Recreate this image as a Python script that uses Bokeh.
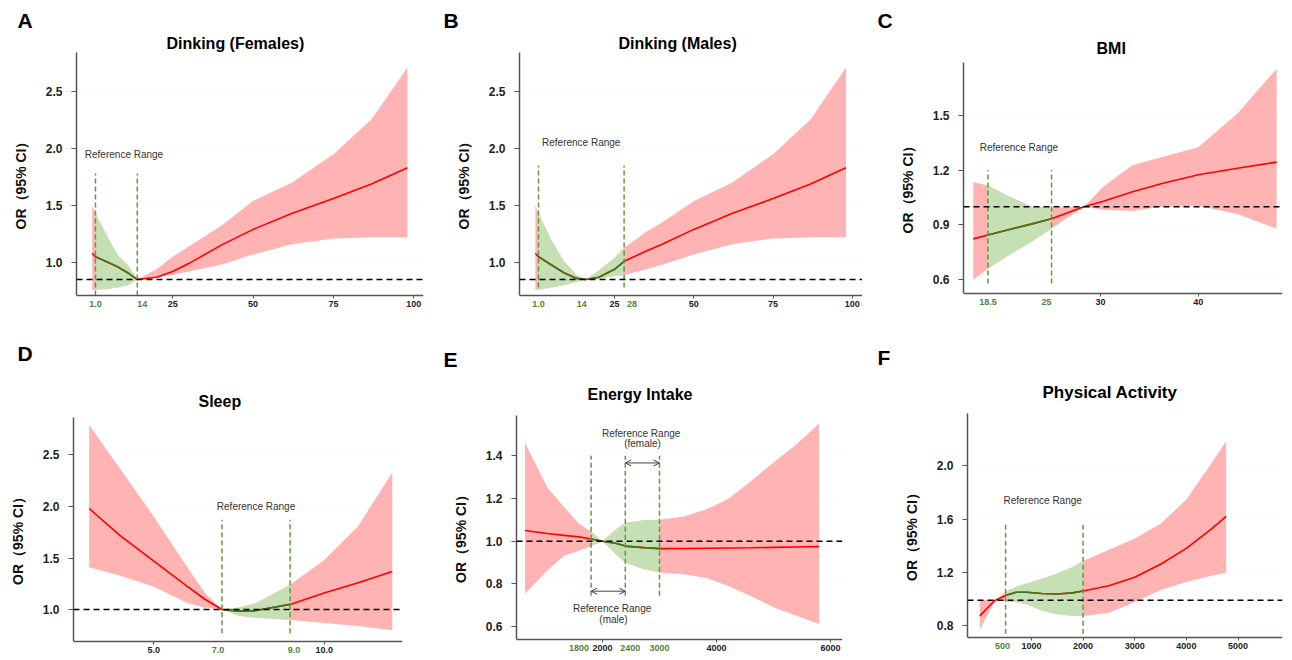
import numpy as np
from bokeh.plotting import figure
from bokeh.models import Range1d, FixedTicker, PrintfTickFormatter, Span, Title, Arrow, OpenHead
from bokeh.layouts import row, column
from bokeh.embed import file_html
from bokeh.resources import INLINE
from bokeh.core.properties import value

FONT = "Liberation Sans"
RED_FILL = "#ffb3b3"
RED_LINE = "#ff0000"
GREEN_FILL = "#c5e0b4"
GREEN_LINE = "#3b7a1e"
GREEN_DASH = "#5f9a3c"
GREEN_TEXT = "#548235"
Y_LABEL = "OR（95% CI）"
NOTE = "Reference  Range"

# ---------------- data ----------------
# A  Drinking (females)
A_x = [0, 1, 5, 8, 11, 14, 20, 25, 30, 40, 50, 62, 75, 87, 98]
A_or = [1.08, 1.05, 1.00, 0.96, 0.91, 0.85, 0.87, 0.92, 0.99, 1.15, 1.29, 1.43, 1.56, 1.69, 1.83]
A_lo = [0.76, 0.76, 0.77, 0.78, 0.80, 0.85, 0.87, 0.89, 0.92, 0.98, 1.07, 1.16, 1.21, 1.22, 1.22]
A_hi = [1.50, 1.43, 1.21, 1.06, 0.98, 0.85, 0.94, 1.05, 1.14, 1.32, 1.54, 1.70, 1.95, 2.26, 2.71]
A_ref = [1, 14]
A_ref_line = 0.85
A_yticks = [1.0, 1.5, 2.0, 2.5]
A_xticks = [25, 50, 75, 100]
A_green_ticks = [1, 14]
A_green_labels = ["1.0", "14"]

# B  Drinking (males)
B_x = [0, 1, 5, 9, 13, 16, 20, 25, 28, 35, 40, 50, 62, 75, 87, 98]
B_or = [1.08, 1.05, 0.98, 0.91, 0.86, 0.85, 0.87, 0.94, 1.01, 1.10, 1.16, 1.29, 1.43, 1.56, 1.69, 1.83]
B_lo = [0.76, 0.76, 0.78, 0.80, 0.83, 0.85, 0.86, 0.88, 0.89, 0.94, 0.98, 1.07, 1.16, 1.21, 1.22, 1.22]
B_hi = [1.50, 1.43, 1.20, 1.01, 0.89, 0.85, 0.93, 1.04, 1.13, 1.27, 1.35, 1.54, 1.70, 1.95, 2.26, 2.71]
B_ref = [1, 28]
B_ref_line = 0.85
B_yticks = [1.0, 1.5, 2.0, 2.5]
B_xticks = [25, 50, 75, 100]
B_green_ticks = [1, 14, 28]
B_green_labels = ["1.0", "14", "28"]

# C  BMI
C_x = [17, 18.5, 20.5, 23, 25, 28.3, 30.3, 33.2, 36.2, 40, 44, 48]
C_or = [0.824, 0.845, 0.872, 0.906, 0.934, 1.0, 1.03, 1.08, 1.125, 1.175, 1.21, 1.244]
C_lo = [0.60, 0.66, 0.73, 0.81, 0.88, 1.0, 0.983, 0.976, 1.0, 1.005, 0.96, 0.88]
C_hi = [1.134, 1.116, 1.06, 1.0, 0.994, 1.0, 1.11, 1.225, 1.27, 1.325, 1.51, 1.755]
C_ref = [18.5, 25]
C_ref_line = 1.0
C_yticks = [0.6, 0.9, 1.2, 1.5]
C_xticks = [30, 40]
C_green_ticks = [18.5, 25]
C_green_labels = ["18.5", "25"]

# D  Sleep
D_x = [3.1, 4, 5, 6, 6.5, 7, 7.5, 8, 9, 10, 11, 12]
D_or = [1.98, 1.72, 1.47, 1.22, 1.10, 1.0, 0.985, 0.99, 1.05, 1.16, 1.26, 1.37]
D_lo = [1.41, 1.33, 1.22, 1.06, 1.02, 1.0, 0.94, 0.92, 0.90, 0.87, 0.84, 0.80]
D_hi = [2.79, 2.37, 1.90, 1.40, 1.16, 1.0, 1.02, 1.06, 1.24, 1.48, 1.81, 2.33]
D_ref = [7, 9]
D_ref_line = 1.0
D_yticks = [1.0, 1.5, 2.0, 2.5]
D_xticks = [5, 10]
D_green_ticks = [7, 9]
D_green_labels = ["7.0", "9.0"]

# E  Energy intake
E_x = [640, 1035, 1325, 1590, 1800, 2000, 2230, 2400, 2730, 3000, 3430, 3840, 4220, 4600, 5010, 5390, 5800]
E_or = [1.05, 1.036, 1.027, 1.02, 1.01, 1.0, 0.99, 0.977, 0.97, 0.965, 0.966, 0.967, 0.968, 0.969, 0.971, 0.973, 0.975]
E_lo = [0.754, 0.864, 0.932, 0.955, 0.977, 1.0, 0.94, 0.90, 0.869, 0.854, 0.845, 0.827, 0.789, 0.743, 0.69, 0.652, 0.612]
E_hi = [1.46, 1.25, 1.16, 1.08, 1.045, 1.0, 1.053, 1.086, 1.098, 1.10, 1.116, 1.15, 1.20, 1.28, 1.37, 1.45, 1.55]
E_ref = [1800, 3000]
E_ref_line = 1.0
E_yticks = [0.6, 0.8, 1.0, 1.2, 1.4]
E_xticks = [2000, 4000, 6000]
E_green_ticks = [1800, 2400, 3000]
E_green_labels = ["1800", "2400", "3000"]

# F  Physical activity
F_x = [0, 150, 300, 500, 700, 900, 1200, 1500, 1800, 2000, 2500, 3000, 3500, 4000, 4500, 4770]
F_or = [0.872, 0.933, 0.99, 1.025, 1.05, 1.05, 1.04, 1.036, 1.045, 1.059, 1.098, 1.163, 1.26, 1.38, 1.53, 1.62]
F_lo = [0.767, 0.879, 0.99, 0.981, 0.975, 0.962, 0.913, 0.884, 0.872, 0.87, 0.896, 0.977, 1.066, 1.127, 1.176, 1.196]
F_hi = [0.993, 0.99, 0.99, 1.054, 1.09, 1.115, 1.15, 1.19, 1.24, 1.285, 1.37, 1.455, 1.565, 1.747, 2.03, 2.185]
F_ref = [500, 2000]
F_ref_line = 0.99
F_yticks = [0.8, 1.2, 1.6, 2.0]
F_xticks = [1000, 2000, 3000, 4000, 5000]
F_green_ticks = [500]
F_green_labels = ["500"]

PAD = 16  # px kept below the x axis (inside the frame) for tick labels


def panel(x, orv, lo, hi, ref, vlines, vline_y, ref_line, xr, y_axis, y_top, yticks,
          xticks, xfmt, gticks, glabels, goffsets, title, t_off, t_stand, t_size,
          letter, l_off, l_stand, size, borders, notes, arrows=()):
    w, h = size
    bl, br, bt, bb = borders
    vis = h - bt - bb - PAD
    y_start = y_axis - PAD * (y_top - y_axis) / vis
    p = figure(width=w, height=h, x_range=Range1d(*xr), y_range=Range1d(y_start, y_top),
               output_backend="svg", toolbar_location=None, frame_align=False,
               min_border_left=bl, min_border_right=br, min_border_top=bt, min_border_bottom=bb)
    p.outline_line_color = None
    p.background_fill_color = "white"
    p.xgrid.visible = False
    p.ygrid.grid_line_color = "#eeeeee"
    p.ygrid.grid_line_dash = "1 4"

    x = np.asarray(x, float)
    orv = np.asarray(orv, float)
    lo = np.asarray(lo, float)
    hi = np.asarray(hi, float)
    m = (x >= ref[0]) & (x <= ref[1])

    p.varea(x=x, y1=lo, y2=hi, fill_color=RED_FILL)
    p.varea(x=x[m], y1=lo[m], y2=hi[m], fill_color=GREEN_FILL)
    p.line(x, orv, line_color=RED_LINE, line_width=1.6)
    p.line(x[m], orv[m], line_color=GREEN_LINE, line_width=1.6)
    p.segment(x0=vlines, y0=[vline_y[0]] * len(vlines), x1=vlines, y1=[vline_y[1]] * len(vlines),
              line_color=GREEN_DASH, line_dash="5 3", line_width=1.5)
    p.add_layout(Span(location=ref_line, dimension="width", line_color="black",
                      line_dash="6 4", line_width=1.5))

    nx, ny, nt = notes
    p.text(x=nx, y=ny, text=nt, text_font=value(FONT), text_font_size="10px",
           text_color="#333333", text_align="center", text_baseline="middle")
    for (xs, xe, ya) in arrows:
        p.add_layout(Arrow(start=OpenHead(size=6, line_color="#444444", line_width=1),
                           end=OpenHead(size=6, line_color="#444444", line_width=1),
                           x_start=xs, y_start=ya, x_end=xe, y_end=ya,
                           line_color="#444444", line_width=1))

    # axes
    for ax in (p.xaxis[0], p.yaxis[0]):
        ax.axis_line_color = "#555555"
        ax.axis_line_width = 1.5
        ax.major_tick_line_color = "#555555"
        ax.minor_tick_line_color = None
        ax.major_tick_in = 0
        ax.major_label_text_font = FONT
        ax.major_label_text_font_style = "bold"
        ax.major_label_text_color = "#222222"
    xa = p.xaxis[0]
    xa.fixed_location = y_axis
    xa.ticker = FixedTicker(ticks=xticks)
    xa.formatter = PrintfTickFormatter(format=xfmt)
    xa.major_tick_out = 3
    xa.major_label_standoff = 2
    xa.major_label_text_font_size = "9px"
    ya = p.yaxis[0]
    ya.bounds = (y_axis, y_top)
    ya.ticker = FixedTicker(ticks=yticks)
    ya.formatter = PrintfTickFormatter(format="%.1f")
    ya.major_tick_out = 5
    ya.major_label_standoff = 9
    ya.major_label_text_font_size = "12px"
    ya.axis_label = Y_LABEL
    ya.axis_label_text_font = FONT
    ya.axis_label_text_font_style = "bold"
    ya.axis_label_text_font_size = "14px"
    ya.axis_label_text_color = "#111111"
    ya.axis_label_standoff = 14

    # green (reference-range) tick labels, just under the axis
    p.text(x=gticks, y=[y_axis] * len(gticks), text=glabels, x_offset=goffsets, y_offset=5,
           text_align="center", text_baseline="top", text_color=GREEN_TEXT,
           text_font=value(FONT), text_font_size="9px", text_font_style="bold")

    p.add_layout(Title(text=title, align="left", offset=t_off, standoff=t_stand,
                       text_font=FONT, text_font_size=t_size, text_font_style="bold",
                       text_color="black"), "above")
    p.add_layout(Title(text=letter, align="left", offset=l_off, standoff=l_stand,
                       text_font=FONT, text_font_size="21px", text_font_style="bold",
                       text_color="black"), "above")
    return p


pA = panel(A_x, A_or, A_lo, A_hi, A_ref, A_ref, (0.71, 1.78), A_ref_line, (-4.9, 103), 0.71, 2.842,
           A_yticks, A_xticks, "%d", A_green_ticks, A_green_labels, [0, 5],
           "Dinking (Females)", 90, 2, "16px", "A", -59, 0, (433, 318), (76, 10, 52, 7),
           ([10.3], [1.95], [NOTE]))
pB = panel(B_x, B_or, B_lo, B_hi, B_ref, B_ref, (0.78, 1.85), B_ref_line, (-5, 103.2), 0.71, 2.842,
           B_yticks, B_xticks, "%d", B_green_ticks, B_green_labels, [0, 2, 8],
           "Dinking (Males)", 99, 2, "16px", "B", -76, 0, (429, 318), (86, 0, 52, 7),
           ([14.9], [2.05], [NOTE]))
pC = panel(C_x, C_or, C_lo, C_hi, C_ref, C_ref, (0.58, 1.20), C_ref_line, (16.0, 48.6), 0.525, 1.789,
           C_yticks, C_xticks, "%d", C_green_ticks, C_green_labels, [0, -5],
           "BMI", 133, 12, "16px", "C", -86, 0, (428, 318), (101, 8, 62, 9),
           ([21.8], [1.324], [NOTE]))
pD = panel(D_x, D_or, D_lo, D_hi, D_ref, D_ref, (0.77, 1.87), D_ref_line, (2.64, 12.3), 0.69, 2.863,
           D_yticks, D_xticks, "%.1f", D_green_ticks, D_green_labels, [-4, 4],
           "Sleep", 125, 16, "16px", "D", -56, 36, (433, 340), (73, 31, 99, 1),
           ([8.04], [2.0], [NOTE]))
pE = panel(E_x, E_or, E_lo, E_hi, E_ref, E_green_ticks, (0.745, 1.40), E_ref_line, (491, 6211), 0.54, 1.588,
           E_yticks, E_xticks, "%d", E_green_ticks, E_green_labels, [-12, 5, 0],
           "Energy Intake", 71, 26, "16px", "E", -73, 0, (429, 340), (83, 20, 97, 3),
           ([2702, 2702, 2193, 2193], [1.505, 1.455, 0.683, 0.635],
            [NOTE, "(female)", NOTE, "(male)"]),
           arrows=[(2400, 3000, 1.366), (1800, 2400, 0.766)])
pF = panel(F_x, F_or, F_lo, F_hi, F_ref, F_ref, (0.738, 1.577), F_ref_line, (-238, 5861), 0.709, 2.395,
           F_yticks, F_xticks, "%d", F_green_ticks, F_green_labels, [-3],
           "Physical Activity", 75, 24, "17px", "F", -90, 0, (428, 340), (105, 8, 95, 5),
           ([1244], [1.743], [NOTE]))

layout = column(row(pA, pB, pC), row(pD, pE, pF))
open("out.html", "w").write(file_html(layout, INLINE))
